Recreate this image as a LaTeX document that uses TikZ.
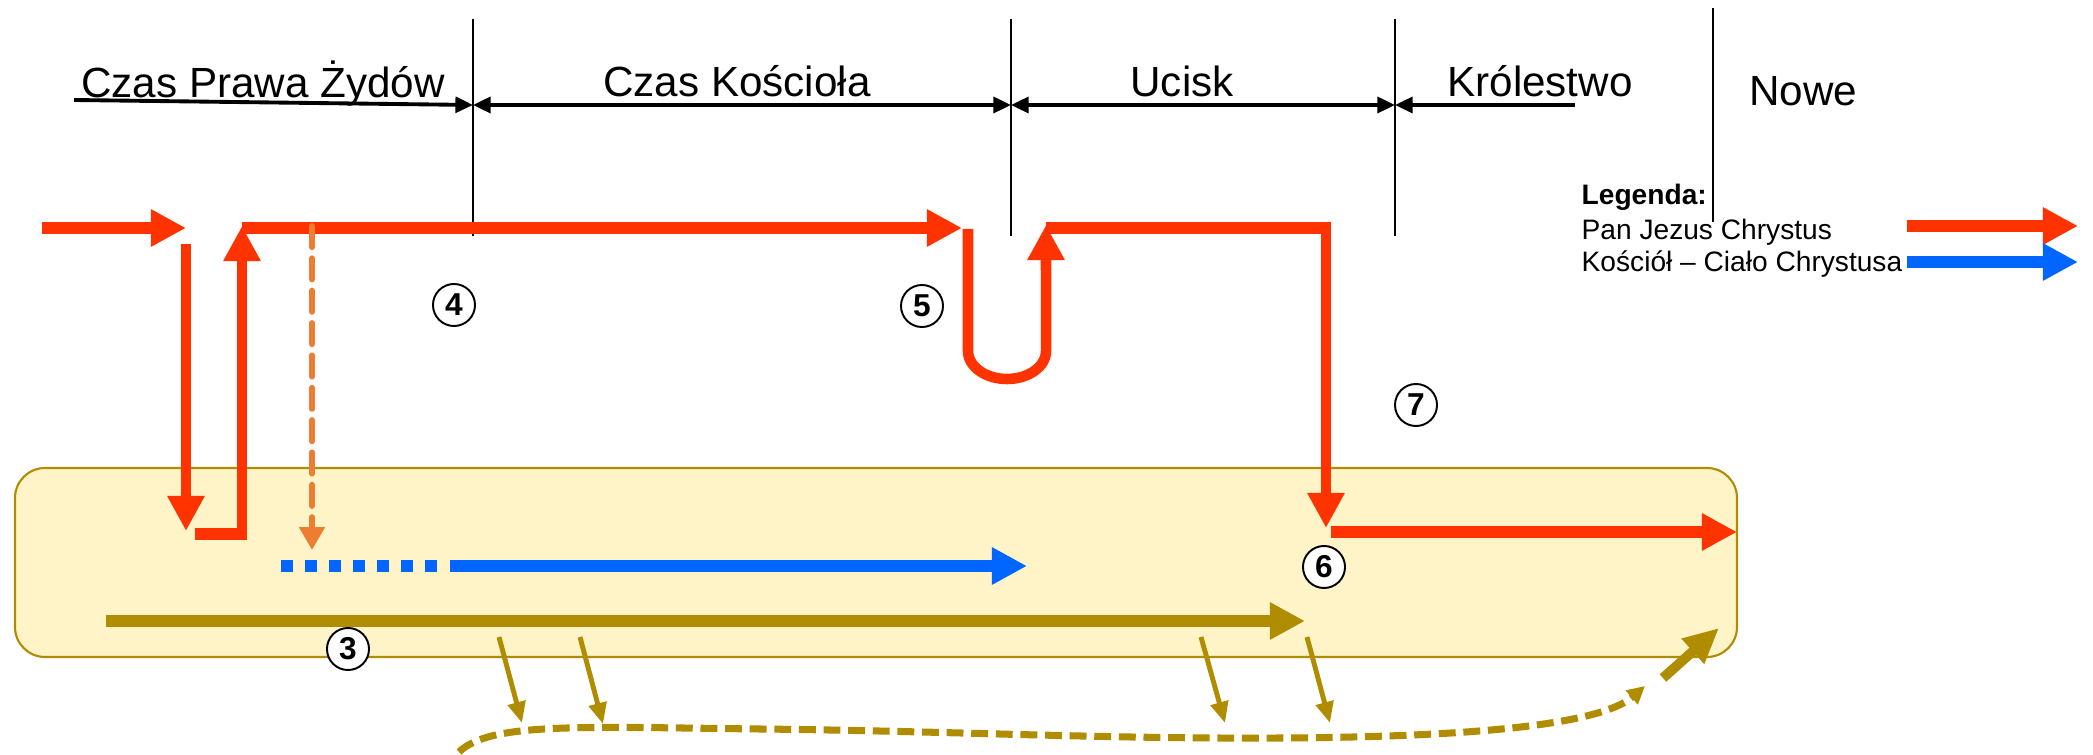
\documentclass[tikz,border=0pt]{standalone}
\usepackage{fontspec}
\setmainfont{Liberation Sans}
\usetikzlibrary{arrows.meta}
\definecolor{LordRed}{RGB}{255,51,0}
\definecolor{ChurchBlue}{RGB}{0,102,255}
\definecolor{SpiritOrange}{RGB}{237,125,49}
\definecolor{IsraelGold}{RGB}{175,140,0}
\definecolor{EarthBand}{RGB}{255,243,200}
\tikzset{
  eraline/.style={draw=black,line width=0.6pt},
  eraspan/.style={{Triangle[length=5pt,width=4.5pt]}-{Triangle[length=5pt,width=4.5pt]},line width=1.1pt},
  eraend/.style={-{Triangle[length=5pt,width=4.5pt]},line width=1.1pt},
  eralabel/.style={anchor=base,inner sep=0pt,font=\fontsize{12}{14}\selectfont},
  redflow/.style={-{Triangle[length=10pt,width=10pt]},line width=3.4pt,draw=LordRed},
  redrise/.style={-{Triangle[length=10pt,width=10pt]},line width=2.8pt,draw=LordRed},
  redbar/.style={line width=3.4pt,draw=LordRed},
  spiritdrop/.style={-{Triangle[length=6.5pt,width=7pt]},line width=1.7pt,draw=SpiritOrange,
    dash pattern=on 6pt off 3.2pt,line cap=round},
  blueflow/.style={-{Triangle[length=10pt,width=10pt]},line width=3.4pt,draw=ChurchBlue},
  bluedots/.style={line width=3.4pt,draw=ChurchBlue,dash pattern=on 3.41pt off 3.41pt},
  goldflow/.style={-{Triangle[length=10pt,width=10pt]},line width=3.4pt,draw=IsraelGold},
  golddrop/.style={-{Triangle[length=6pt,width=5pt]},line width=1.4pt,draw=IsraelGold},
  goldtrail/.style={-{Triangle[length=5pt,width=5pt]},line width=2pt,draw=IsraelGold,
    dash pattern=on 4.8pt off 2.2pt},
  goldboost/.style={-{Triangle[length=10pt,width=9pt]},line width=2.8pt,draw=IsraelGold},
  earthbox/.style={draw=IsraelGold,fill=EarthBand,line width=0.6pt,rounded corners=0.3cm},
  numdisc/.style={circle,draw,fill=white,line width=0.55pt,minimum size=0.42cm,inner sep=0pt,
    font=\fontsize{9}{9}\selectfont\bfseries},
  legendtext/.style={anchor=base west,inner sep=0pt,font=\fontsize{8}{9.6}\selectfont}
}

\begin{document}
\begin{tikzpicture}[x=0.01cm,y=-0.01cm]
  \useasboundingbox (0,0) rectangle (2093,755);
  % earth band
  \draw[earthbox] (15,468) rectangle (1737,657);

  % time line
  \coordinate (lawstart) at (74,100);
  \coordinate (lawend) at (473,105);
  \coordinate (churchend) at (1011,105);
  \coordinate (tribend) at (1395,105);
  \coordinate (kingstart) at (1575,105);
  \draw[eraline] (473,19) -- (473,236);
  \draw[eraline] (1011,19) -- (1011,236);
  \draw[eraline] (1395,19) -- (1395,236);
  \draw[eraline] (1713,8) -- (1713,222);
  \draw[eraend] (lawstart) -- (lawend);
  \draw[eraspan] (lawend) -- (churchend);
  \draw[eraspan] (churchend) -- (tribend);
  \draw[eraend] (kingstart) -- (tribend);
  \node[eralabel] (lawlabel) at (263,98) {Czas Prawa Żydów};
  \node[eralabel] (churchlabel) at (737,97) {Czas Kościoła};
  \node[eralabel] (triblabel) at (1182,97) {Ucisk};
  \node[eralabel] (kinglabel) at (1540,97) {Królestwo};
  \node[eralabel] (newlabel) at (1803,106) {Nowe};

  % Pan Jezus Chrystus
  \coordinate (heaven) at (42,228);
  \coordinate (descent) at (186,228);
  \coordinate (birth) at (186,531);
  \coordinate (ascent) at (242,226);
  \coordinate (rapture) at (962,228);
  \coordinate (returnup) at (1046,225);
  \coordinate (returndown) at (1326,528);
  \draw[redflow] (heaven) -- (descent);
  \draw[redrise] (186,244) -- (birth);
  \draw[redbar] (195,534) -- (247,534);
  \draw[redrise] (242,540) -- (ascent);
  \draw[redflow] (242,228) -- (rapture);
  \draw[redrise,line width=3pt] (968,229) -- (968,351)
    arc[start angle=180,end angle=360,x radius=0.39cm,y radius=0.28cm] -- (returnup);
  \draw[redbar] (1046,228) -- (1331,228);
  \draw[redrise] (1326,223) -- (returndown);
  \draw[redflow] (1331,532) -- (1737,532);

  % Duch
  \draw[spiritdrop] (312,226) -- (312,550);

  % Kosciol
  \draw[bluedots] (281,566) -- (440,566);
  \draw[blueflow] (450,566) -- (1027,566);

  % Izrael
  \draw[goldflow] (106,621) -- (1305,621);
  \draw[golddrop] (499,637) -- (522,723);
  \draw[golddrop] (580,637) -- (603,724);
  \draw[golddrop] (1201,637) -- (1225,723);
  \draw[golddrop] (1307,637) -- (1330,723);
  \draw[goldtrail] (459,752) .. controls (490,722) and (580,727) .. (760,729)
    .. controls (950,731) and (1100,739) .. (1280,738)
    .. controls (1470,737) and (1600,725) .. (1645,686);
  \draw[goldboost] (1663,678) -- (1719,628);

  % numery
  \node[numdisc] (n3) at (348,649) {3};
  \node[numdisc] (n4) at (454,305) {4};
  \node[numdisc] (n5) at (922,306) {5};
  \node[numdisc] (n6) at (1324,567) {6};
  \node[numdisc] (n7) at (1416,405) {7};

  % legenda
  \node[legendtext,font=\fontsize{8}{9.6}\selectfont\bfseries] (legendhead) at (1581,205) {Legenda:};
  \node[legendtext] (legendlord) at (1581,240) {Pan Jezus Chrystus};
  \node[legendtext] (legendchurch) at (1581,272) {Kościół – Ciało Chrystusa};
  \draw[redflow] (1907,226) -- (2078,226);
  \draw[blueflow] (1907,262) -- (2078,262);
\end{tikzpicture}
\end{document}
